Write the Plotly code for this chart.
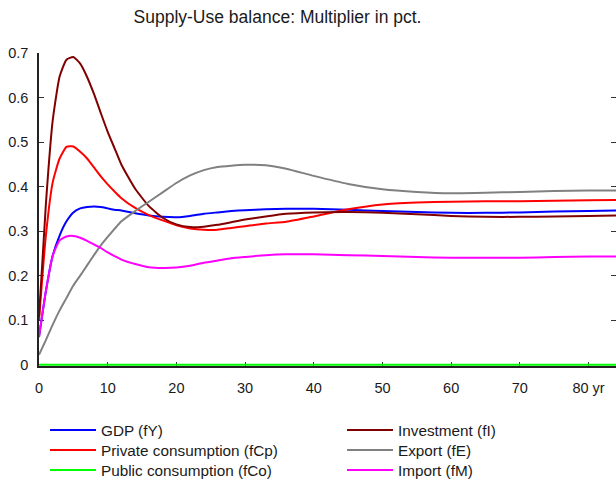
import plotly.graph_objects as go

years = [0, 1, 2, 3, 4, 5, 6, 7, 8, 9, 10, 11, 12, 14, 16, 18, 20, 22, 24, 26, 28, 30,
         33, 36, 40, 45, 50, 55, 60, 65, 70, 75, 80, 84]

gdp = [0.062, 0.165, 0.245, 0.290, 0.322, 0.342, 0.351, 0.354, 0.355, 0.354, 0.351, 0.348, 0.346,
       0.340, 0.335, 0.332, 0.331, 0.334, 0.339, 0.342, 0.345, 0.347,
       0.349, 0.350, 0.350, 0.348, 0.345, 0.343, 0.341, 0.341, 0.342, 0.344, 0.345, 0.346]

priv_cons = [0.100, 0.290, 0.410, 0.463, 0.489, 0.490, 0.478, 0.463, 0.443, 0.423, 0.405, 0.389, 0.374,
             0.352, 0.336, 0.324, 0.313, 0.306, 0.303, 0.303, 0.307, 0.311,
             0.317, 0.321, 0.333, 0.349, 0.360, 0.364, 0.366, 0.367, 0.367, 0.368, 0.369, 0.370]

pub_cons = [0.0] * 34

investment = [0.107, 0.360, 0.549, 0.647, 0.685, 0.691, 0.676, 0.646, 0.608, 0.565, 0.523, 0.486, 0.449,
              0.395, 0.356, 0.330, 0.315, 0.309, 0.310, 0.314, 0.320, 0.326,
              0.333, 0.339, 0.342, 0.343, 0.341, 0.338, 0.334, 0.332, 0.332, 0.333, 0.334, 0.335]

export = [0.022, 0.055, 0.090, 0.122, 0.150, 0.178, 0.200, 0.223, 0.246, 0.268, 0.287, 0.305, 0.322,
          0.345, 0.366, 0.387, 0.408, 0.425, 0.437, 0.444, 0.447, 0.449,
          0.448, 0.440, 0.424, 0.406, 0.394, 0.388, 0.385, 0.386, 0.388, 0.390, 0.391, 0.391]

imports = [0.062, 0.165, 0.245, 0.279, 0.288, 0.289, 0.285, 0.278, 0.270, 0.262, 0.252, 0.244, 0.236,
           0.226, 0.219, 0.217, 0.218, 0.222, 0.229, 0.234, 0.239, 0.242,
           0.246, 0.248, 0.248, 0.246, 0.244, 0.242, 0.240, 0.240, 0.240, 0.242, 0.243, 0.243]

x_tickvals = [0, 10, 20, 30, 40, 50, 60, 70, 80]
x_ticktext = ["0", "10", "20", "30", "40", "50", "60", "70", "80 yr"]
y_tickvals = [0, 0.1, 0.2, 0.3, 0.4, 0.5, 0.6, 0.7]
y_ticktext = ["0", "0.1", "0.2", "0.3", "0.4", "0.5", "0.6", "0.7"]

FONT = "Liberation Sans, Arial, Helvetica, sans-serif"
TXT = "#1a1a1a"
W, H = 616, 484

# (name, values, colour, legend id, legend left px, legend row centre px)
series = [
    ("GDP (fY)", gdp, "#0000ff", "legend", 45, 430),
    ("Private consumption (fCp)", priv_cons, "#ff0000", "legend2", 45, 450),
    ("Public consumption (fCo)", pub_cons, "#00ff00", "legend3", 45, 470),
    ("Investment (fI)", investment, "#800000", "legend4", 342, 430),
    ("Export (fE)", export, "#808080", "legend5", 342, 450),
    ("Import (fM)", imports, "#ff00ff", "legend6", 342, 470),
]

fig = go.Figure()
legends = {}
for name, vals, col, leg, lx, ly in series:
    fig.add_trace(go.Scatter(x=years, y=vals, name=name, mode="lines",
                             line=dict(color=col, width=2, shape="spline", smoothing=0.5),
                             legend=leg))
    legends[leg] = dict(x=lx / W, xref="container", xanchor="left",
                        y=1 - ly / H, yref="container", yanchor="middle",
                        font=dict(family=FONT, size=15.3, color=TXT),
                        bgcolor="rgba(0,0,0,0)", itemwidth=46, borderwidth=0)

ml, mr, mt, mb = 38.6, 0, 52.6, 118.4

fig.update_layout(
    width=W, height=H,
    margin=dict(l=ml, r=mr, t=mt, b=mb, pad=0, autoexpand=False),
    paper_bgcolor="white", plot_bgcolor="white",
    font=dict(family=FONT, size=14.5, color=TXT),
    title=dict(text="Supply-Use balance: Multiplier in pct.", x=277.5 / W, xref="container",
               xanchor="center", y=1 - 17 / H, yref="container", yanchor="middle",
               font=dict(family=FONT, size=17.5, color=TXT)),
    showlegend=True,
    **legends,
)

fig.update_xaxes(range=[0, 84], tickvals=x_tickvals, ticktext=x_ticktext,
                 ticks="inside", ticklen=4, tickwidth=1, tickcolor="#333",
                 showline=True, linecolor="#222", linewidth=1.5, mirror=False,
                 showgrid=False, zeroline=False, layer="below traces",
                 ticklabelstandoff=8, tickfont=dict(family=FONT, size=14.5, color=TXT))
fig.update_yaxes(range=[-0.003, 0.7], tickvals=y_tickvals, ticktext=y_ticktext,
                 ticks="inside", ticklen=5, tickwidth=1, tickcolor="#333",
                 showline=True, linecolor="#222", linewidth=1.5, mirror="ticks",
                 showgrid=False, zeroline=False, layer="below traces",
                 ticklabelstandoff=6, tickfont=dict(family=FONT, size=14.5, color=TXT))

fig.write_html("out.html", config={"displayModeBar": False},
               post_script="document.body.style.margin='0';")
